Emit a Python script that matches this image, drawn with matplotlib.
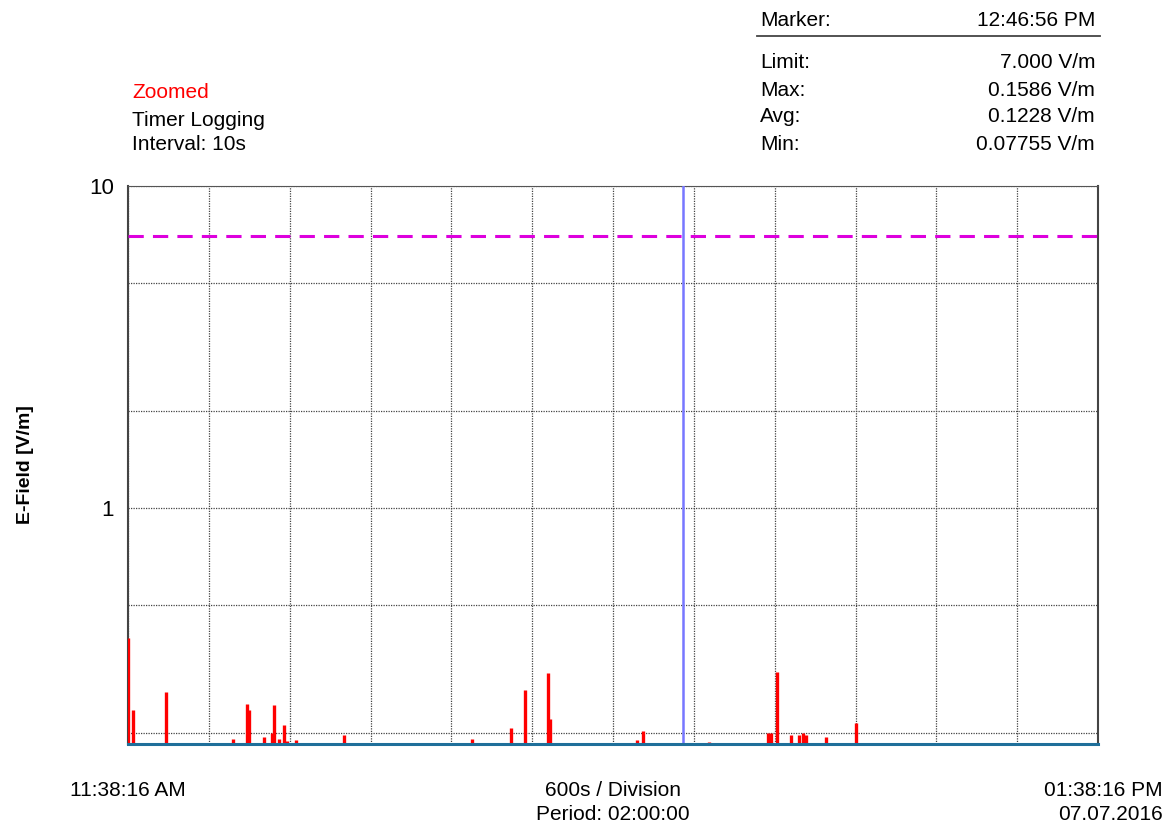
import matplotlib
matplotlib.use("Agg")
import matplotlib.pyplot as plt
import numpy as np

plt.rcParams['font.family'] = ['Liberation Sans', 'DejaVu Sans']

# spike events (seconds after 11:38:16, E-field in V/m); baseline sits below the axis
spike_t = [0, 40, 280, 780, 880, 900, 1010, 1070, 1080, 1120, 1160, 1180, 1250,
           1600, 2550, 2840, 2950, 3120, 3130, 3780, 3820, 4310, 4750, 4770,
           4820, 4920, 4980, 5010, 5030, 5180, 5400]
spike_v = [0.395, 0.236, 0.268, 0.192, 0.246, 0.236, 0.194, 0.200, 0.245, 0.192,
           0.212, 0.189, 0.190, 0.197, 0.192, 0.207, 0.272, 0.307, 0.221, 0.190,
           0.203, 0.188, 0.200, 0.200, 0.310, 0.197, 0.197, 0.200, 0.197, 0.194,
           0.215]
baseline = 0.12
limit = 7.0
marker_t = 4120
period = 7200

W, H = 1172, 827
fig = plt.figure(figsize=(W / 100, H / 100), dpi=100)
ax = fig.add_axes([128 / W, 1 - 744 / H, 970 / W, 558 / H])

ax.set_yscale('log')
ax.set_xlim(0, period)
ax.set_ylim(0.185, 10)

# grid
ax.set_xticks(np.arange(0, period + 1, 600))
ax.set_yticks([0.2, 0.5, 1, 2, 5, 10])
ax.yaxis.set_minor_locator(matplotlib.ticker.NullLocator())
ax.grid(True, color='#444444', linestyle=(0, (1, 1)), linewidth=0.9)
ax.tick_params(length=0, labelbottom=False)
ax.set_yticklabels(['', '', '1', '', '', '10'], fontsize=16)
ax.tick_params(axis='y', pad=10)

ax.vlines(spike_t, baseline, spike_v, color='red', linewidth=2.4, zorder=3)
ax.axhline(limit, color='#dd00dd', linestyle=(0, (5, 3)), linewidth=2.2, zorder=3)
ax.axvline(marker_t, color='#7777ff', linewidth=1.8, zorder=4)

for s in ['left', 'right']:
    ax.spines[s].set_color('#444444')
    ax.spines[s].set_linewidth(1.5)
ax.spines['top'].set_color('#555555')
ax.spines['top'].set_linestyle((0, (1, 1)))
ax.spines['bottom'].set_color('#1f6f9a')
ax.spines['bottom'].set_linewidth(2.2)
ax.spines['bottom'].set_zorder(5)

fig.text(25 / W, 1 - 465 / H, 'E-Field [V/m]', rotation=90, fontsize=14,
         fontweight='bold', ha='center', va='center')


def ftext(x, y, s, **kw):
    # nudge down a little so the glyphs sit where the reference has them
    fig.text(x / W, 1 - (y + 2) / H, s, va='center', fontsize=15, **kw)


ftext(132, 91, 'Zoomed', color='red')
ftext(132, 118, 'Timer Logging')
ftext(132, 142, 'Interval: 10s')

rows = [('Marker:', '12:46:56 PM', 19), ('Limit:', '7.000 V/m', 60),
        ('Max:', '0.1586 V/m', 88), ('Avg:', '0.1228 V/m', 115),
        ('Min:', '0.07755 V/m', 143)]
for lab, val, y in rows:
    ftext(760, y, lab)
    ftext(1095, y, val, ha='right')
fig.add_artist(plt.Line2D([757 / W, 1100 / W], [1 - 36 / H, 1 - 36 / H],
                          color='#444444', linewidth=1.3))

ftext(128, 789, '11:38:16 AM', ha='center')
ftext(613, 789, '600s / Division', ha='center')
ftext(613, 813, 'Period: 02:00:00', ha='center')
ftext(1163, 789, '01:38:16 PM', ha='right')
ftext(1163, 813, '07.07.2016', ha='right')

fig.savefig('out.png', dpi=100)
